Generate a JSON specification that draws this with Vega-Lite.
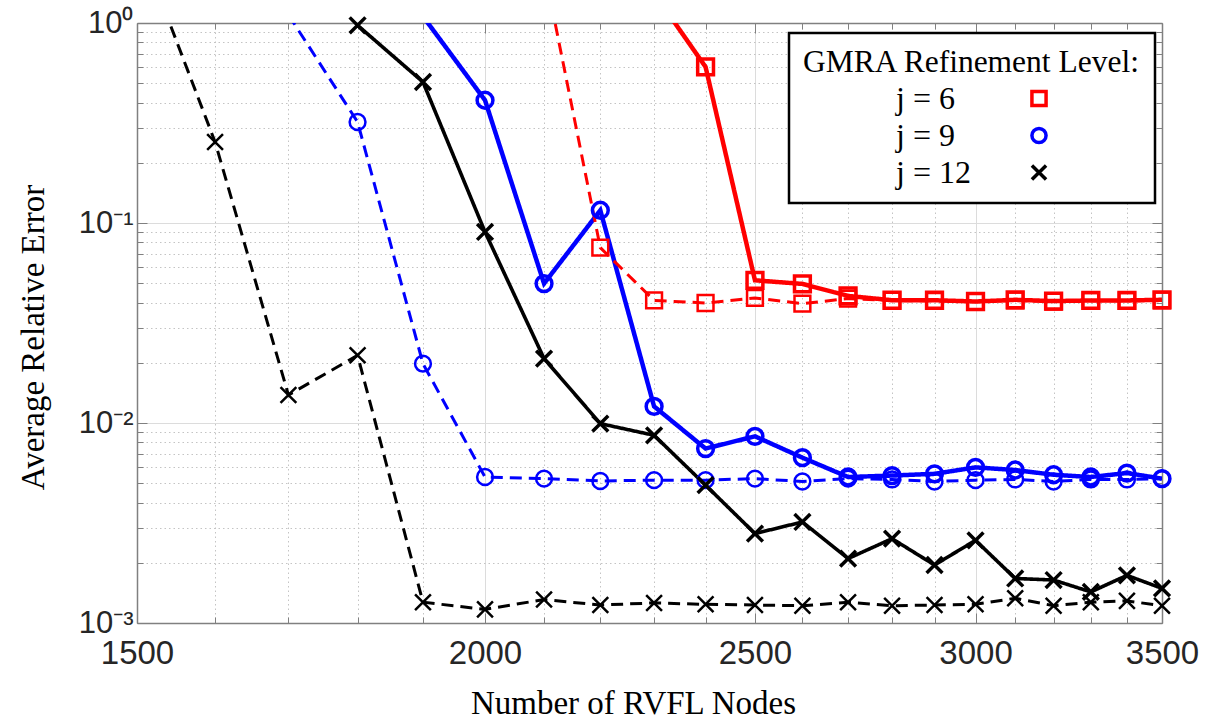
{
  "$schema": "https://vega.github.io/schema/vega-lite/v6.json",
  "width": 1025,
  "height": 600,
  "autosize": {"type": "none"},
  "padding": {"left": 137, "top": 23, "right": 48, "bottom": 103},
  "background": "white",
  "config": {
    "view": {"stroke": null},
    "legend": {"strokeWidth": 2.5}
  },
  "data": {
    "values": [
      {"level": "j = 6", "variant": "solid", "nodes": 2300, "error": 1.41},
      {"level": "j = 6", "variant": "solid", "nodes": 2400, "error": 0.603},
      {"level": "j = 6", "variant": "solid", "nodes": 2500, "error": 0.0517},
      {"level": "j = 6", "variant": "solid", "nodes": 2600, "error": 0.0496},
      {"level": "j = 6", "variant": "solid", "nodes": 2700, "error": 0.0432},
      {"level": "j = 6", "variant": "solid", "nodes": 2800, "error": 0.0411},
      {"level": "j = 6", "variant": "solid", "nodes": 2900, "error": 0.0411},
      {"level": "j = 6", "variant": "solid", "nodes": 3000, "error": 0.0405},
      {"level": "j = 6", "variant": "solid", "nodes": 3100, "error": 0.0413},
      {"level": "j = 6", "variant": "solid", "nodes": 3200, "error": 0.0407},
      {"level": "j = 6", "variant": "solid", "nodes": 3300, "error": 0.041},
      {"level": "j = 6", "variant": "solid", "nodes": 3400, "error": 0.041},
      {"level": "j = 6", "variant": "solid", "nodes": 3500, "error": 0.0413},

      {"level": "j = 6", "variant": "dashed", "nodes": 2100, "error": 1.88},
      {"level": "j = 6", "variant": "dashed", "nodes": 2200, "error": 0.0753},
      {"level": "j = 6", "variant": "dashed", "nodes": 2300, "error": 0.041},
      {"level": "j = 6", "variant": "dashed", "nodes": 2400, "error": 0.0398},
      {"level": "j = 6", "variant": "dashed", "nodes": 2500, "error": 0.0422},
      {"level": "j = 6", "variant": "dashed", "nodes": 2600, "error": 0.0395},
      {"level": "j = 6", "variant": "dashed", "nodes": 2700, "error": 0.0419},
      {"level": "j = 6", "variant": "dashed", "nodes": 2800, "error": 0.041},
      {"level": "j = 6", "variant": "dashed", "nodes": 2900, "error": 0.0408},
      {"level": "j = 6", "variant": "dashed", "nodes": 3000, "error": 0.0404},
      {"level": "j = 6", "variant": "dashed", "nodes": 3100, "error": 0.041},
      {"level": "j = 6", "variant": "dashed", "nodes": 3200, "error": 0.0405},
      {"level": "j = 6", "variant": "dashed", "nodes": 3300, "error": 0.0408},
      {"level": "j = 6", "variant": "dashed", "nodes": 3400, "error": 0.0408},
      {"level": "j = 6", "variant": "dashed", "nodes": 3500, "error": 0.041},

      {"level": "j = 9", "variant": "solid", "nodes": 1900, "error": 1.08},
      {"level": "j = 9", "variant": "solid", "nodes": 2000, "error": 0.411},
      {"level": "j = 9", "variant": "solid", "nodes": 2100, "error": 0.0498},
      {"level": "j = 9", "variant": "solid", "nodes": 2200, "error": 0.1158},
      {"level": "j = 9", "variant": "solid", "nodes": 2300, "error": 0.0121},
      {"level": "j = 9", "variant": "solid", "nodes": 2400, "error": 0.00745},
      {"level": "j = 9", "variant": "solid", "nodes": 2500, "error": 0.00858},
      {"level": "j = 9", "variant": "solid", "nodes": 2600, "error": 0.00671},
      {"level": "j = 9", "variant": "solid", "nodes": 2700, "error": 0.00537},
      {"level": "j = 9", "variant": "solid", "nodes": 2800, "error": 0.00546},
      {"level": "j = 9", "variant": "solid", "nodes": 2900, "error": 0.00557},
      {"level": "j = 9", "variant": "solid", "nodes": 3000, "error": 0.006},
      {"level": "j = 9", "variant": "solid", "nodes": 3100, "error": 0.00582},
      {"level": "j = 9", "variant": "solid", "nodes": 3200, "error": 0.00551},
      {"level": "j = 9", "variant": "solid", "nodes": 3300, "error": 0.00537},
      {"level": "j = 9", "variant": "solid", "nodes": 3400, "error": 0.00562},
      {"level": "j = 9", "variant": "solid", "nodes": 3500, "error": 0.00527},

      {"level": "j = 9", "variant": "dashed", "nodes": 1700, "error": 1.1},
      {"level": "j = 9", "variant": "dashed", "nodes": 1800, "error": 0.32},
      {"level": "j = 9", "variant": "dashed", "nodes": 1900, "error": 0.0198},
      {"level": "j = 9", "variant": "dashed", "nodes": 2000, "error": 0.00537},
      {"level": "j = 9", "variant": "dashed", "nodes": 2100, "error": 0.00527},
      {"level": "j = 9", "variant": "dashed", "nodes": 2200, "error": 0.00513},
      {"level": "j = 9", "variant": "dashed", "nodes": 2300, "error": 0.00518},
      {"level": "j = 9", "variant": "dashed", "nodes": 2400, "error": 0.00518},
      {"level": "j = 9", "variant": "dashed", "nodes": 2500, "error": 0.00527},
      {"level": "j = 9", "variant": "dashed", "nodes": 2600, "error": 0.0051},
      {"level": "j = 9", "variant": "dashed", "nodes": 2700, "error": 0.00527},
      {"level": "j = 9", "variant": "dashed", "nodes": 2800, "error": 0.00522},
      {"level": "j = 9", "variant": "dashed", "nodes": 2900, "error": 0.0051},
      {"level": "j = 9", "variant": "dashed", "nodes": 3000, "error": 0.00518},
      {"level": "j = 9", "variant": "dashed", "nodes": 3100, "error": 0.00522},
      {"level": "j = 9", "variant": "dashed", "nodes": 3200, "error": 0.0051},
      {"level": "j = 9", "variant": "dashed", "nodes": 3300, "error": 0.00522},
      {"level": "j = 9", "variant": "dashed", "nodes": 3400, "error": 0.00522},
      {"level": "j = 9", "variant": "dashed", "nodes": 3500, "error": 0.00527},

      {"level": "j = 12", "variant": "solid", "nodes": 1800, "error": 0.974},
      {"level": "j = 12", "variant": "solid", "nodes": 1900, "error": 0.507},
      {"level": "j = 12", "variant": "solid", "nodes": 2000, "error": 0.0902},
      {"level": "j = 12", "variant": "solid", "nodes": 2100, "error": 0.021},
      {"level": "j = 12", "variant": "solid", "nodes": 2200, "error": 0.00993},
      {"level": "j = 12", "variant": "solid", "nodes": 2300, "error": 0.00868},
      {"level": "j = 12", "variant": "solid", "nodes": 2400, "error": 0.00489},
      {"level": "j = 12", "variant": "solid", "nodes": 2500, "error": 0.0028},
      {"level": "j = 12", "variant": "solid", "nodes": 2600, "error": 0.0032},
      {"level": "j = 12", "variant": "solid", "nodes": 2700, "error": 0.0021},
      {"level": "j = 12", "variant": "solid", "nodes": 2800, "error": 0.00264},
      {"level": "j = 12", "variant": "solid", "nodes": 2900, "error": 0.00195},
      {"level": "j = 12", "variant": "solid", "nodes": 3000, "error": 0.00259},
      {"level": "j = 12", "variant": "solid", "nodes": 3100, "error": 0.00167},
      {"level": "j = 12", "variant": "solid", "nodes": 3200, "error": 0.00164},
      {"level": "j = 12", "variant": "solid", "nodes": 3300, "error": 0.00143},
      {"level": "j = 12", "variant": "solid", "nodes": 3400, "error": 0.00173},
      {"level": "j = 12", "variant": "solid", "nodes": 3500, "error": 0.00149},

      {"level": "j = 12", "variant": "dashed", "nodes": 1500, "error": 2.67},
      {"level": "j = 12", "variant": "dashed", "nodes": 1600, "error": 0.254},
      {"level": "j = 12", "variant": "dashed", "nodes": 1700, "error": 0.0138},
      {"level": "j = 12", "variant": "dashed", "nodes": 1800, "error": 0.0218},
      {"level": "j = 12", "variant": "dashed", "nodes": 1900, "error": 0.00127},
      {"level": "j = 12", "variant": "dashed", "nodes": 2000, "error": 0.00117},
      {"level": "j = 12", "variant": "dashed", "nodes": 2100, "error": 0.00131},
      {"level": "j = 12", "variant": "dashed", "nodes": 2200, "error": 0.00123},
      {"level": "j = 12", "variant": "dashed", "nodes": 2300, "error": 0.00126},
      {"level": "j = 12", "variant": "dashed", "nodes": 2400, "error": 0.00124},
      {"level": "j = 12", "variant": "dashed", "nodes": 2500, "error": 0.00123},
      {"level": "j = 12", "variant": "dashed", "nodes": 2600, "error": 0.00122},
      {"level": "j = 12", "variant": "dashed", "nodes": 2700, "error": 0.00127},
      {"level": "j = 12", "variant": "dashed", "nodes": 2800, "error": 0.00122},
      {"level": "j = 12", "variant": "dashed", "nodes": 2900, "error": 0.00123},
      {"level": "j = 12", "variant": "dashed", "nodes": 3000, "error": 0.00124},
      {"level": "j = 12", "variant": "dashed", "nodes": 3100, "error": 0.00133},
      {"level": "j = 12", "variant": "dashed", "nodes": 3200, "error": 0.00122},
      {"level": "j = 12", "variant": "dashed", "nodes": 3300, "error": 0.00127},
      {"level": "j = 12", "variant": "dashed", "nodes": 3400, "error": 0.00129},
      {"level": "j = 12", "variant": "dashed", "nodes": 3500, "error": 0.00122}
    ]
  },
  "layer": [
    {
      "transform": [{"filter": "datum.level == 'j = 12'"}],
      "mark": {"type": "line", "clip": true, "color": "#000000"},
      "encoding": {
        "x": {
          "field": "nodes", "type": "quantitative",
          "scale": {"type": "log", "domain": [1500, 3500], "nice": false, "zero": false},
          "axis": {
            "orient": "bottom",
            "values": [1500,1600,1700,1800,1900,2000,2100,2200,2300,2400,2500,2600,2700,2800,2900,3000,3100,3200,3300,3400,3500],
            "labelExpr": "datum.value % 500 == 0 ? format(datum.value, 'd') : ''",
            "labelFlush": false,
            "labelOverlap": false,
            "labelFont": "Liberation Sans",
            "labelFontSize": 33,
            "labelColor": "#262626",
            "labelPadding": 24,
            "title": "Number of RVFL Nodes",
            "titleFont": "Liberation Serif",
            "titleFontSize": 33,
            "titleFontWeight": "normal",
            "titleColor": "#000000",
            "titlePadding": 13,
            "titleX": 496,
            "domainColor": "#808080",
            "domainWidth": 1.5,
            "tickColor": "#808080",
            "tickWidth": 1,
            "tickSize": {"condition": {"test": "datum.value % 500 == 0", "value": -10}, "value": -6},
            "grid": true,
            "gridColor": {"condition": {"test": "datum.value % 500 == 0", "value": "#dcdcdc"}, "value": "#c4c4c4"},
            "gridDash": {"condition": {"test": "datum.value % 500 == 0", "value": []}, "value": [1.5, 3]},
            "gridWidth": 1
          }
        },
        "y": {
          "field": "error", "type": "quantitative",
          "scale": {"type": "log", "domain": [0.001, 1], "nice": false},
          "axis": {
            "orient": "left",
            "values": [0.001,0.002,0.003,0.004,0.005,0.006,0.007,0.008,0.009,0.01,0.02,0.03,0.04,0.05,0.06,0.07,0.08,0.09,0.1,0.2,0.3,0.4,0.5,0.6,0.7,0.8,0.9,1],
            "labelExpr": "datum.value == 1 ? '10⁰' : datum.value == 0.1 ? '10⁻¹' : datum.value == 0.01 ? '10⁻²' : datum.value == 0.001 ? '10⁻³' : ''",
            "labelFlush": false,
            "labelOverlap": false,
            "labelFont": "Liberation Sans",
            "labelFontSize": 31,
            "labelColor": "#262626",
            "labelPadding": 14,
            "title": "Average Relative Error",
            "titleFont": "Liberation Serif",
            "titleFontSize": 33,
            "titleFontWeight": "normal",
            "titleColor": "#000000",
            "titlePadding": 28,
            "titleY": 314,
            "domainColor": "#808080",
            "domainWidth": 1.5,
            "tickColor": "#808080",
            "tickWidth": 1,
            "tickSize": {"condition": {"test": "datum.value == 1 || datum.value == 0.1 || datum.value == 0.01 || datum.value == 0.001", "value": -10}, "value": -6},
            "grid": true,
            "gridColor": {"condition": {"test": "datum.value == 1 || datum.value == 0.1 || datum.value == 0.01 || datum.value == 0.001", "value": "#dcdcdc"}, "value": "#c4c4c4"},
            "gridDash": {"condition": {"test": "datum.value == 1 || datum.value == 0.1 || datum.value == 0.01 || datum.value == 0.001", "value": []}, "value": [1.5, 3]},
            "gridWidth": 1
          }
        },
        "strokeDash": {
          "field": "variant", "type": "nominal",
          "scale": {"domain": ["solid", "dashed"], "range": [[1, 0], [12, 7]]},
          "legend": null
        },
        "strokeWidth": {
          "field": "variant", "type": "ordinal",
          "scale": {"domain": ["solid", "dashed"], "range": [3.6, 3]},
          "legend": null
        }
      }
    },
    {
      "transform": [{"filter": "datum.level == 'j = 9'"}],
      "mark": {"type": "line", "clip": true, "color": "#0000ff"},
      "encoding": {
        "x": {"field": "nodes", "type": "quantitative", "scale": {"type": "log", "domain": [1500, 3500], "nice": false, "zero": false}, "axis": null},
        "y": {"field": "error", "type": "quantitative", "scale": {"type": "log", "domain": [0.001, 1], "nice": false}, "axis": null},
        "strokeDash": {
          "field": "variant", "type": "nominal",
          "scale": {"domain": ["solid", "dashed"], "range": [[1, 0], [12, 7]]},
          "legend": null
        },
        "strokeWidth": {
          "field": "variant", "type": "ordinal",
          "scale": {"domain": ["solid", "dashed"], "range": [4.5, 3]},
          "legend": null
        }
      }
    },
    {
      "transform": [{"filter": "datum.level == 'j = 6'"}],
      "mark": {"type": "line", "clip": true, "color": "#ff0000"},
      "encoding": {
        "x": {"field": "nodes", "type": "quantitative", "scale": {"type": "log", "domain": [1500, 3500], "nice": false, "zero": false}, "axis": null},
        "y": {"field": "error", "type": "quantitative", "scale": {"type": "log", "domain": [0.001, 1], "nice": false}, "axis": null},
        "strokeDash": {
          "field": "variant", "type": "nominal",
          "scale": {"domain": ["solid", "dashed"], "range": [[1, 0], [12, 7]]},
          "legend": null
        },
        "strokeWidth": {
          "field": "variant", "type": "ordinal",
          "scale": {"domain": ["solid", "dashed"], "range": [4.5, 3]},
          "legend": null
        }
      }
    },
    {
      "transform": [{"filter": "datum.error <= 1"}],
      "mark": {"type": "point", "filled": false, "size": 250, "opacity": 1},
      "encoding": {
        "x": {
          "field": "nodes", "type": "quantitative",
          "scale": {"type": "log", "domain": [1500, 3500], "nice": false, "zero": false},
          "axis": {
            "orient": "top",
            "values": [1500,1600,1700,1800,1900,2000,2100,2200,2300,2400,2500,2600,2700,2800,2900,3000,3100,3200,3300,3400,3500],
            "labels": false,
            "title": null,
            "grid": false,
            "domainColor": "#808080",
            "domainWidth": 1.5,
            "tickColor": "#808080",
            "tickWidth": 1,
            "tickSize": {"condition": {"test": "datum.value % 500 == 0", "value": -10}, "value": -6}
          }
        },
        "y": {
          "field": "error", "type": "quantitative",
          "scale": {"type": "log", "domain": [0.001, 1], "nice": false},
          "axis": {
            "orient": "right",
            "values": [0.001,0.002,0.003,0.004,0.005,0.006,0.007,0.008,0.009,0.01,0.02,0.03,0.04,0.05,0.06,0.07,0.08,0.09,0.1,0.2,0.3,0.4,0.5,0.6,0.7,0.8,0.9,1],
            "labels": false,
            "title": null,
            "grid": false,
            "domainColor": "#808080",
            "domainWidth": 1.5,
            "tickColor": "#808080",
            "tickWidth": 1,
            "tickSize": {"condition": {"test": "datum.value == 1 || datum.value == 0.1 || datum.value == 0.01 || datum.value == 0.001", "value": -10}, "value": -6}
          }
        },
        "color": {
          "field": "level", "type": "nominal",
          "scale": {"domain": ["j = 6", "j = 9", "j = 12"], "range": ["#ff0000", "#0000ff", "#000000"]},
          "legend": {
            "title": "GMRA Refinement Level:",
            "orient": "none",
            "legendX": 652,
            "legendY": 10,
            "padding": 14,
            "strokeColor": "#000000",
            "fillColor": "#ffffff",
            "titleFont": "Liberation Serif",
            "titleFontSize": 31.5,
            "titleFontWeight": "normal",
            "titleColor": "#000000",
            "titleAnchor": "start",
            "titleLimit": 500,
            "titlePadding": 4,
            "labelFont": "Liberation Serif",
            "labelFontSize": 32,
            "labelColor": "#000000",
            "labelLimit": 300,
            "labelOffset": -159,
            "symbolOffset": 220,
            "symbolSize": 200,
            "symbolStrokeWidth": 3.5,
            "rowPadding": 5
          }
        },
        "shape": {
          "field": "level", "type": "nominal",
          "scale": {"domain": ["j = 6", "j = 9", "j = 12"], "range": ["square", "circle", "M-1,-1L1,1M-1,1L1,-1"]},
          "legend": {
            "title": "GMRA Refinement Level:",
            "orient": "none",
            "legendX": 652,
            "legendY": 10,
            "padding": 14,
            "strokeColor": "#000000",
            "fillColor": "#ffffff",
            "titleFont": "Liberation Serif",
            "titleFontSize": 31.5,
            "titleFontWeight": "normal",
            "titleColor": "#000000",
            "titleAnchor": "start",
            "titleLimit": 500,
            "titlePadding": 4,
            "labelFont": "Liberation Serif",
            "labelFontSize": 32,
            "labelColor": "#000000",
            "labelLimit": 300,
            "labelOffset": -159,
            "symbolOffset": 220,
            "symbolSize": 200,
            "symbolStrokeWidth": 3.5,
            "rowPadding": 5
          }
        },
        "strokeWidth": {
          "field": "variant", "type": "ordinal",
          "scale": {"domain": ["solid", "dashed"], "range": [3.5, 2.5]},
          "legend": null
        }
      }
    }
  ],
  "resolve": {
    "axis": {"x": "independent", "y": "independent"},
    "scale": {"strokeWidth": "independent"}
  }
}
